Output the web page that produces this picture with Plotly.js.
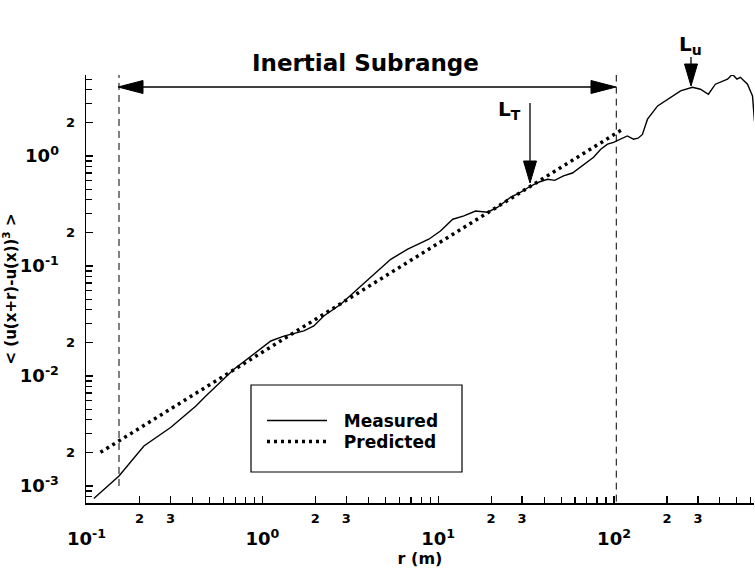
<!DOCTYPE html>
<html><head><meta charset="utf-8">
<script src="https://cdn.plot.ly/plotly-3.0.1.min.js"></script>
<style>html,body{margin:0;padding:0;background:#fff}</style>
</head><body><div id="chart" style="width:755px;height:577px"></div>
<script>
// ---- data ----
const measuredR = [0.110, 0.153, 0.212, 0.302, 0.419, 0.477, 0.689, 0.860, 1.117, 1.325, 1.721, 1.962, 2.235, 2.79, 3.49, 4.13, 5.37, 6.71, 8.84, 10.3, 12.1, 14.0, 16.3, 19.1, 21.8, 25.8, 29.5, 33.6, 37.5, 41.9, 46.0, 51.6, 58.0, 64.5, 76.5, 84, 91.9, 99.4, 109, 119, 129, 137, 145, 155, 177, 201, 239, 279, 310, 344, 377, 442, 471, 500, 523, 574, 613, 629];
const measuredV = [7.7e-4, 1.23e-3, 2.31e-3, 3.42e-3, 5.34e-3, 6.58e-3, 0.0115, 0.0152, 0.0208, 0.0230, 0.0257, 0.0285, 0.0351, 0.0449, 0.0614, 0.0789, 0.115, 0.142, 0.175, 0.208, 0.266, 0.285, 0.316, 0.308, 0.342, 0.421, 0.47, 0.533, 0.58, 0.614, 0.60, 0.658, 0.70, 0.789, 0.973, 1.15, 1.28, 1.33, 1.42, 1.52, 1.42, 1.45, 1.57, 2.16, 2.85, 3.28, 3.90, 4.21, 4.04, 3.64, 4.49, 4.98, 5.53, 5.0, 5.19, 4.49, 3.51, 2.08];
const predictedR = [0.12, 112];
const predictedV = [0.00202, 1.75];
const subrangeBounds = [0.153, 103];
const leftBoundV = [1.0e-3, 5.6];
const rightBoundV = [7.2e-4, 5.6];

const xMajorTicks = [0.1, 1, 10, 100];
const xMajorLabels = ['10<sup>-1</sup>', '10<sup>0</sup>', '10<sup>1</sup>', '10<sup>2</sup>'];
const xMinorTicks = [0.2, 0.3, 2, 3, 20, 30, 200, 300];
const xMinorLabels = ['2', '3', '2', '3', '2', '3', '2', '3'];
const xSmallTicks = [0.4, 0.5, 0.6, 0.7, 0.8, 0.9, 4, 5, 6, 7, 8, 9, 40, 50, 60, 70, 80, 90, 400, 500, 600];
const yMajorTicks = [0.001, 0.01, 0.1, 1];
const yMajorLabels = ['10<sup>-3</sup>', '10<sup>-2</sup>', '10<sup>-1</sup>', '10<sup>0</sup>'];
const yMinorTicks = [0.002, 0.02, 0.2, 2];
const yMinorLabels = ['2', '2', '2', '2'];
const ySmallTicks = [0.0008, 0.0009, 0.003, 0.004, 0.005, 0.006, 0.007, 0.008, 0.009, 0.03, 0.04, 0.05, 0.06, 0.07, 0.08, 0.09, 0.3, 0.4, 0.5, 0.6, 0.7, 0.8, 0.9, 3, 4, 5];

// ---- layout helpers (pixel -> paper) ----
const L = 86, R = 1, T = 75, B = 74, W = 755, H = 577;
const PW = W - L - R, PH = H - T - B;
const px = v => (v - L) / PW;
const py = v => (H - B - v) / PH;
const FONT = 'DejaVu Sans, Liberation Sans, Arial, sans-serif';
const bold = (size) => ({family: FONT, size: size, color: '#000', weight: 700});
const XR = [-1.003, 2.796], YR = [-3.155, 0.736];

function tri(a, b, c) {
  return {type: 'path', xref: 'paper', yref: 'paper', fillcolor: '#000', line: {color: '#000', width: 1},
    path: `M${px(a[0])},${py(a[1])} L${px(b[0])},${py(b[1])} L${px(c[0])},${py(c[1])} Z`};
}
function seg(x0, y0, x1, y1, w) {
  return {type: 'line', xref: 'paper', yref: 'paper', x0: px(x0), y0: py(y0), x1: px(x1), y1: py(y1), line: {color: '#000', width: w || 1.3}};
}

const traces = [
  {x: measuredR, y: measuredV, name: '\u00a0\u00a0Measured', legend: 'legend', mode: 'lines', line: {color: '#000', width: 1.4}, xaxis: 'x', yaxis: 'y', cliponaxis: false},
  {x: predictedR, y: predictedV, name: '\u00a0\u00a0Predicted', legend: 'legend2', mode: 'lines', line: {color: '#000', width: 3.5, dash: '3px,4px'}, xaxis: 'x2', yaxis: 'y2', cliponaxis: false},
  {x: [subrangeBounds[0], subrangeBounds[0]], y: leftBoundV, mode: 'lines', showlegend: false, line: {color: '#000', width: 1, dash: '7px,5px'}, xaxis: 'x', yaxis: 'y', cliponaxis: false, hoverinfo: 'skip'},
  {x: [subrangeBounds[1], subrangeBounds[1]], y: rightBoundV, mode: 'lines', showlegend: false, line: {color: '#000', width: 1, dash: '7px,5px'}, xaxis: 'x', yaxis: 'y', cliponaxis: false, hoverinfo: 'skip'}
];

const axBase = {type: 'log', showgrid: false, zeroline: false, tickmode: 'array', ticks: 'inside', tickcolor: '#000', tickwidth: 1.2, autorange: false};
const legBase = {xanchor: 'left', yanchor: 'top', bgcolor: 'rgba(0,0,0,0)', borderwidth: 0, font: bold(17), itemwidth: 60};

const layout = {
  width: W, height: H,
  margin: {l: L, r: R, t: T, b: B, pad: 0},
  paper_bgcolor: '#fff', plot_bgcolor: 'rgba(0,0,0,0)',
  showlegend: true,
  legend: Object.assign({}, legBase, {x: px(262), y: py(403)}),
  legend2: Object.assign({}, legBase, {x: px(262), y: py(424)}),
  xaxis: Object.assign({}, axBase, {range: XR, showline: true, linecolor: '#000', linewidth: 1.5, ticklen: 7,
    tickvals: xMajorTicks, ticktext: xMajorLabels, tickfont: bold(18), ticklabelstandoff: 19,
    title: {text: 'r (m)', font: bold(16), standoff: 0}}),
  xaxis2: Object.assign({}, axBase, {range: XR, overlaying: 'x', anchor: 'y', side: 'bottom', showline: false, ticklen: 7,
    tickvals: xMinorTicks, ticktext: xMinorLabels, tickfont: bold(13), ticklabelstandoff: 6,
    minor: {tickmode: 'array', tickvals: xSmallTicks, ticks: 'inside', ticklen: 6, tickwidth: 1.1, tickcolor: '#000', showgrid: false}}),
  yaxis: Object.assign({}, axBase, {range: YR, showline: true, linecolor: '#000', linewidth: 1.5, ticklen: 7,
    tickvals: yMajorTicks, ticktext: yMajorLabels, tickfont: bold(18), ticklabelstandoff: 22,
    title: {text: '< (u(x+r)-u(x))<sup>3</sup> >', font: bold(15), standoff: 4}}),
  yaxis2: Object.assign({}, axBase, {range: YR, overlaying: 'y', anchor: 'x', side: 'left', showline: false, ticklen: 7,
    tickvals: yMinorTicks, ticktext: yMinorLabels, tickfont: bold(13), ticklabelstandoff: 10,
    minor: {tickmode: 'array', tickvals: ySmallTicks, ticks: 'inside', ticklen: 6, tickwidth: 1.1, tickcolor: '#000', showgrid: false}}),
  shapes: [
    // legend frame
    {type: 'rect', xref: 'paper', yref: 'paper', x0: px(251), x1: px(462), y0: py(472), y1: py(385), line: {color: '#000', width: 1.2}},
    // inertial subrange double arrow
    seg(140, 87, 594, 87, 1.5),
    tri([118, 87], [143, 80.5], [143, 93.5]),
    tri([616, 87], [591, 80.5], [591, 93.5]),
    // L_T arrow
    seg(530, 103, 530, 165, 1.3),
    tri([530, 183], [523.5, 161], [536.5, 161]),
    // L_u arrow
    seg(691, 57, 691, 68, 1.3),
    tri([691, 86], [684.5, 64], [697.5, 64])
  ],
  annotations: [
    {text: 'Inertial Subrange', xref: 'paper', yref: 'paper', x: px(365), y: py(63), showarrow: false, font: bold(23), xanchor: 'center', yanchor: 'middle'},
    {text: 'L<sub>T</sub>', xref: 'paper', yref: 'paper', x: px(509), y: py(110), showarrow: false, font: bold(20), xanchor: 'center', yanchor: 'middle'},
    {text: 'L<sub>u</sub>', xref: 'paper', yref: 'paper', x: px(690), y: py(45), showarrow: false, font: bold(20), xanchor: 'center', yanchor: 'middle'}
  ]
};

Plotly.newPlot('chart', traces, layout, {staticPlot: true, displayModeBar: false});
</script>
</body></html>
